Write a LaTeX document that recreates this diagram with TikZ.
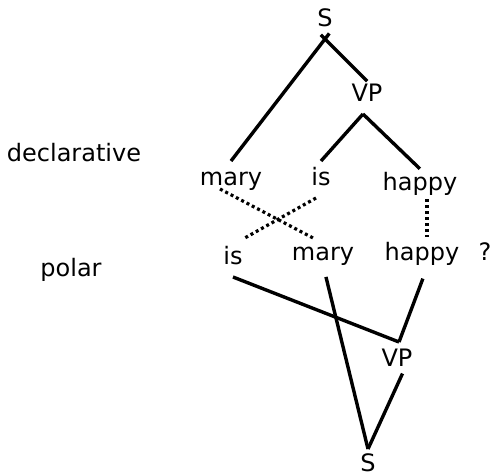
\documentclass[tikz,border=0pt]{standalone}
\usepackage{fontspec}
\setmainfont{DejaVu Sans}
\begin{document}
\begin{tikzpicture}[x=1pt,y=-1pt,
  every node/.style={font=\fontsize{24}{28}\selectfont},
  word/.style={anchor=base, inner sep=0pt, text height=17pt, text depth=6pt, outer xsep=0pt, outer ysep=7pt},
  label/.style={anchor=base, inner sep=0pt},
  branch/.style={line width=3.4pt},
  dotline/.style={line width=3.2pt, dash pattern=on 3pt off 3pt}]
\useasboundingbox (0,0) rectangle (496,475);
% declarative tree
\node[word] (S1) at (325,26) {S};
\node[word] (VP1) at (367,101) {VP};
\node[word] (mary1) at (231,185) {mary};
\node[word] (is1) at (321,185) {is};
\node[word] (happy1) at (420,190) {happy};
% polar row
\node[word] (is2) at (233,264) {is};
\node[word] (mary2) at (323,260) {mary};
\node[word] (happy2) at (422,260) {happy};
\node[label] (q) at (485,260) {?};
\node[word] (VP2) at (397,366) {VP};
\node[word, text depth=0pt] (S2) at (368,471) {S};
% side labels
\node[label] (decl) at (74,161) {declarative};
\node[label] (polar) at (71,276) {polar};
% upper branches
\draw[branch, shorten <=-7pt] (S1.south) -- (mary1.north);
\draw[branch, shorten <=-6pt, shorten >=-6pt] (S1.south) -- ([xshift=-4pt]VP1.north);
\draw[branch] ([xshift=-4pt]VP1.south) -- (is1.north);
\draw[branch, shorten >=-4pt] ([xshift=-4pt]VP1.south) -- ([xshift=-3pt]happy1.north);
% correspondences
\draw[dotline] ([shift={(-11,-9)}]mary1.south) -- ([shift={(-8,3)}]mary2.north);
\draw[dotline] ([shift={(-5,0)}]is1.south) -- ([shift={(10,-1)}]is2.north);
\draw[dotline] ([shift={(7,-4)}]happy1.south) -- ([shift={(5,1)}]happy2.north);
% lower branches
\draw[branch] (is2.south) -- ([xshift=2pt]VP2.north);
\draw[branch, shorten <=6pt] ([xshift=3pt]happy2.south) -- ([xshift=2pt]VP2.north);
\draw[branch, shorten <=4pt] ([xshift=2pt]mary2.south) -- ([yshift=-2pt]S2.north);
\draw[branch, shorten <=-6pt] ([xshift=3pt]VP2.south) -- ([yshift=-2pt]S2.north);
\end{tikzpicture}
\end{document}
